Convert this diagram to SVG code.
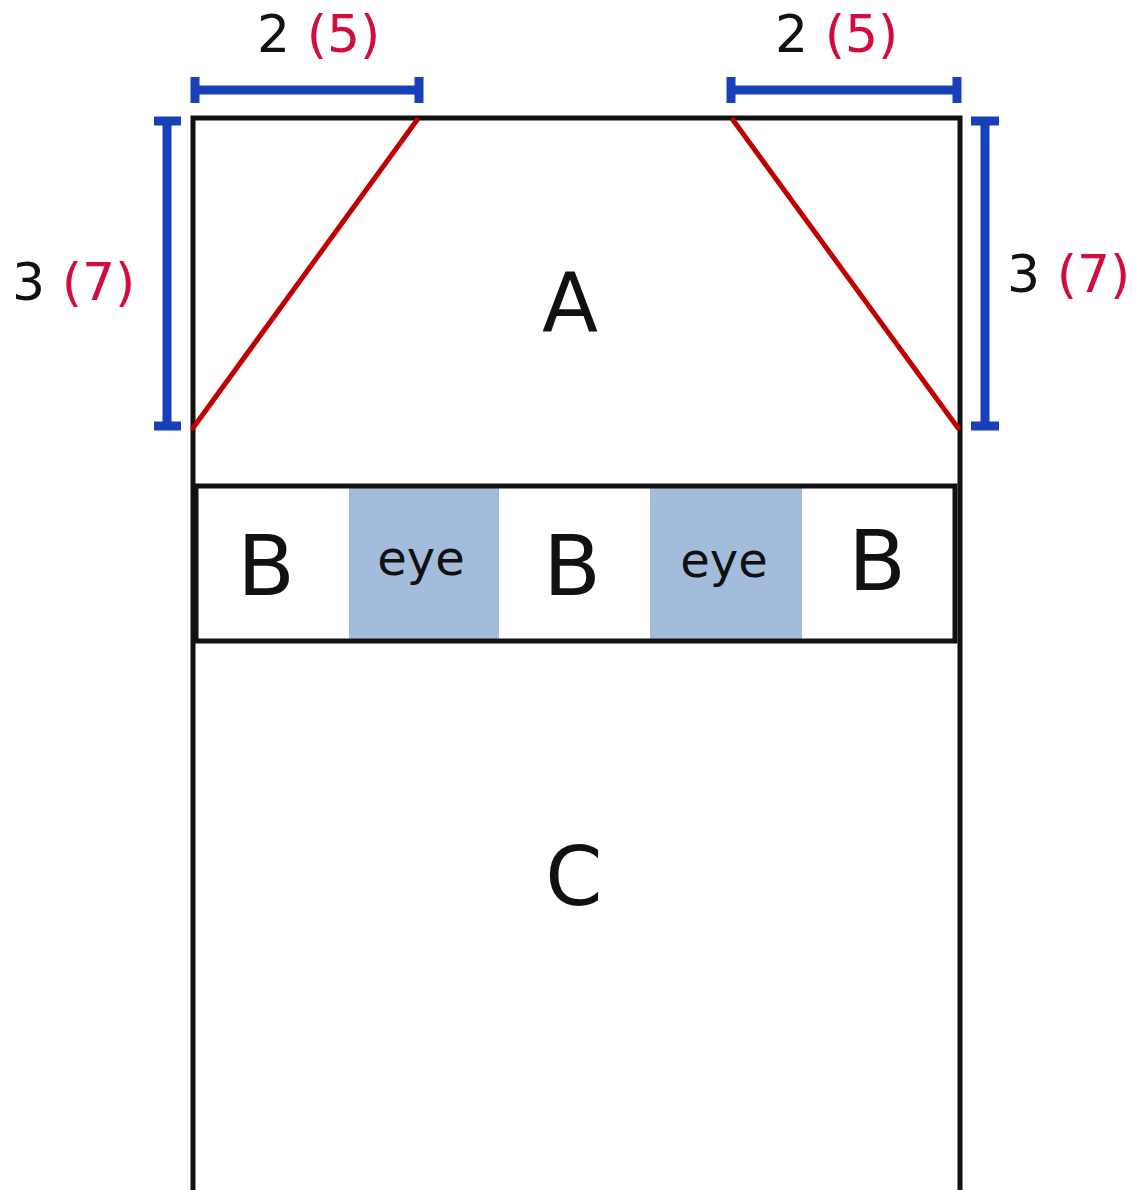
<svg xmlns="http://www.w3.org/2000/svg" width="1140" height="1190" viewBox="0 0 1140 1190">
<style>
.t{font-family:"DejaVu Sans","Liberation Sans",sans-serif;fill:#111}
.r{fill:#d40b3f}
.dim{stroke:#1840b8;stroke-width:9;fill:none}
.blk{stroke:#111;stroke-width:5;fill:none}
.red{stroke:#c00000;stroke-width:5;stroke-linecap:round}
</style>
<rect width="1140" height="1190" fill="#fff"/>
<g id="outer">
<path class="blk" d="M193,1192 V118 H960 V1192"/>
</g>
<g id="regionA">
<text class="t" x="570" y="331" font-size="82" text-anchor="middle">A</text>
</g>
<g id="connectors">
<line class="red" x1="193" y1="428" x2="417" y2="120"/>
<line class="red" x1="733" y1="120" x2="958" y2="428"/>
</g>
<g id="eye1"><rect x="349" y="488" width="150" height="151" fill="#a3bcdc"/><text class="t" x="421" y="575" font-size="48" text-anchor="middle">eye</text></g>
<g id="eye2"><rect x="650" y="488" width="152" height="151" fill="#a3bcdc"/><text class="t" x="724" y="577" font-size="48" text-anchor="middle">eye</text></g>
<g id="rowB">
<rect class="blk" x="196" y="486" width="759" height="155"/>
<text class="t" x="266" y="595" font-size="84" text-anchor="middle">B</text>
<text class="t" x="572" y="595" font-size="84" text-anchor="middle">B</text>
<text class="t" x="877" y="590" font-size="84" text-anchor="middle">B</text>
</g>
<g id="regionC">
<text class="t" x="574" y="905" font-size="82" text-anchor="middle">C</text>
</g>
<g id="dimTopLeft">
<path class="dim" d="M195,90 H419 M195,77 V103 M419,77 V103"/>
<text class="t" x="257" y="52" font-size="52">2 <tspan class="r">(5)</tspan></text>
</g>
<g id="dimTopRight">
<path class="dim" d="M731,90 H957 M731,77 V103 M957,77 V103"/>
<text class="t" x="775" y="52" font-size="52">2 <tspan class="r">(5)</tspan></text>
</g>
<g id="dimLeft">
<path class="dim" d="M167,121 V426 M154,121 H181 M154,426 H181"/>
<text class="t" x="12" y="300" font-size="52">3 <tspan class="r">(7)</tspan></text>
</g>
<g id="dimRight">
<path class="dim" d="M985,121 V426 M971,121 H999 M971,426 H999"/>
<text class="t" x="1007" y="292" font-size="52">3 <tspan class="r">(7)</tspan></text>
</g>
</svg>
